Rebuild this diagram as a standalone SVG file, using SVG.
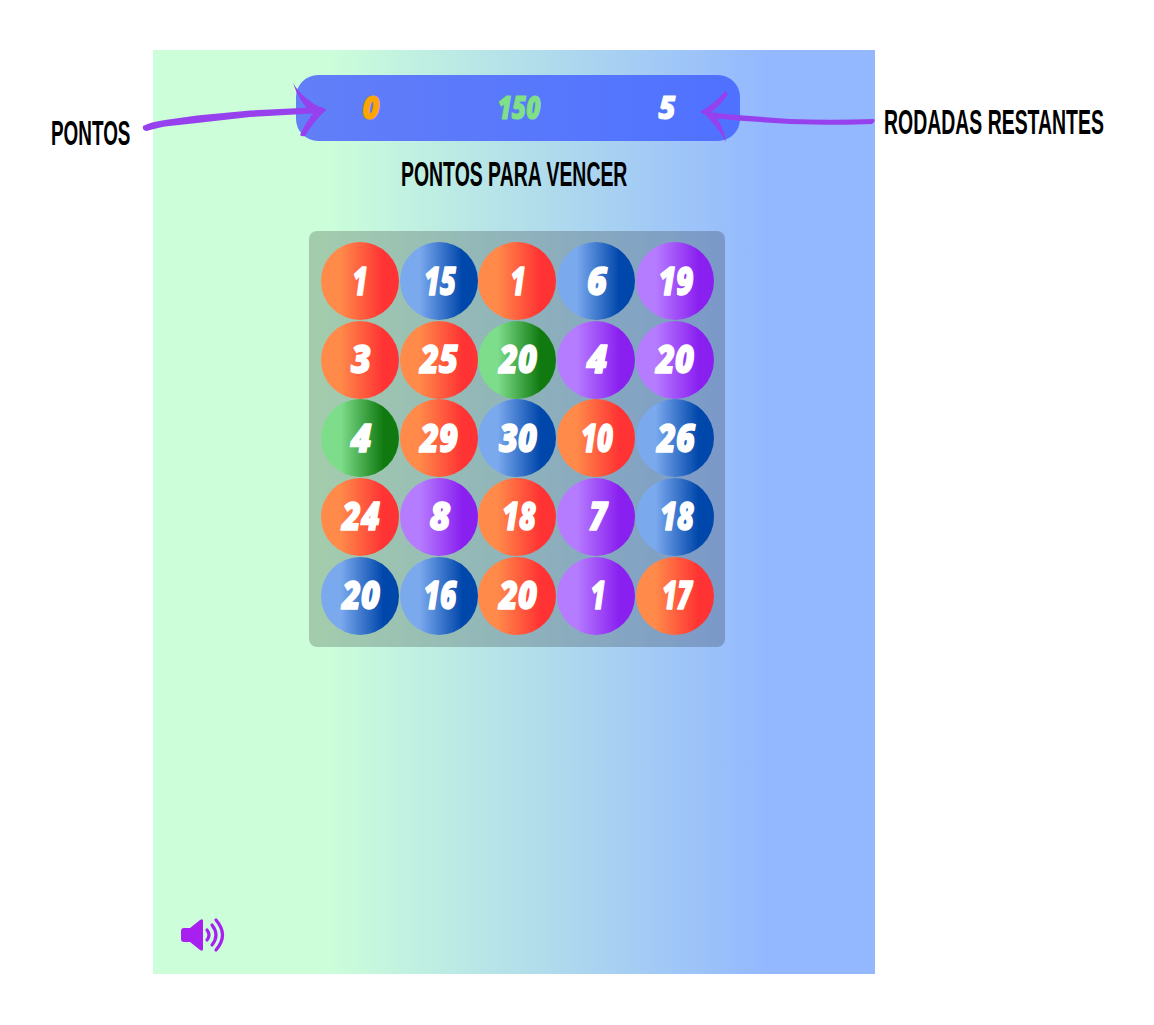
<svg xmlns="http://www.w3.org/2000/svg" width="1154" height="1025" viewBox="0 0 1154 1025">
<style>
.lab{font-family:"Liberation Sans",Arial,sans-serif;font-weight:700;font-size:36px;fill:#000}
.num{font-family:"Open Sans","Liberation Sans",sans-serif;font-weight:800;font-style:italic;font-size:38px;fill:#fff;stroke:#fff;stroke-width:1.4;stroke-linejoin:round;text-anchor:middle}
.stat{font-family:"Open Sans","Liberation Sans",sans-serif;font-weight:800;font-style:italic;font-size:32px;stroke-width:1;stroke-linejoin:round;text-anchor:middle}
.r{fill:url(#gr)}.b{fill:url(#gb)}.p{fill:url(#gp)}.g{fill:url(#gg)}
.arr{fill:#9640EE}
.snd{fill:none;stroke:#A820F0;stroke-width:3.2;stroke-linecap:round}
</style>
<defs>
<linearGradient id="bg" x1="0" x2="1" y1="0" y2="0"><stop offset=".235" stop-color="#CCFFD9"/><stop offset=".85" stop-color="#94B8FF"/></linearGradient>
<linearGradient id="bar" x1="0" x2="1" y1="0" y2="0"><stop offset="0" stop-color="#627FF8"/><stop offset="1" stop-color="#4F71FF"/></linearGradient>
<linearGradient id="gr" x1="0" x2="1" y1="0" y2="0"><stop offset=".25" stop-color="#FF8A4A"/><stop offset=".8" stop-color="#FF3333"/></linearGradient>
<linearGradient id="gb" x1="0" x2="1" y1="0" y2="0"><stop offset=".25" stop-color="#7BA9EE"/><stop offset=".8" stop-color="#0047AB"/></linearGradient>
<linearGradient id="gp" x1="0" x2="1" y1="0" y2="0"><stop offset=".25" stop-color="#B67CFF"/><stop offset=".8" stop-color="#8A20F0"/></linearGradient>
<linearGradient id="gg" x1="0" x2="1" y1="0" y2="0"><stop offset=".25" stop-color="#7EDD8B"/><stop offset=".8" stop-color="#107A10"/></linearGradient>
</defs>
<rect id="background" x="153" y="50" width="722" height="924" fill="url(#bg)"/>
<g id="score-bar">
<rect x="296" y="75" width="444" height="66" rx="22" fill="url(#bar)"/>
<text class="stat" x="371" y="119" fill="#FFA500" stroke="#FFA500" textLength="17" lengthAdjust="spacingAndGlyphs">0</text>
<text class="stat" x="519" y="119" fill="#80E085" stroke="#80E085" textLength="43" lengthAdjust="spacingAndGlyphs">150</text>
<text class="stat" x="667" y="119" fill="#fff" stroke="#fff" textLength="17" lengthAdjust="spacingAndGlyphs">5</text>
</g>
<g id="label-pontos"><text class="lab" transform="translate(51 145) scale(.525 1)">PONTOS</text></g>
<g id="label-vencer"><text class="lab" transform="translate(401 186) scale(.54 1)">PONTOS PARA VENCER</text></g>
<g id="label-rodadas"><text class="lab" transform="translate(884 134) scale(.54 1)">RODADAS RESTANTES</text></g>
<g id="board"><rect x="309" y="231" width="416" height="416" rx="8" fill="#000" fill-opacity=".2"/></g>
<g id="c11"><circle class="r" cx="360" cy="281" r="39"/><text class="num" x="360" y="295" textLength="15" lengthAdjust="spacingAndGlyphs">1</text></g>
<g id="c12"><circle class="b" cx="439" cy="281" r="39"/><text class="num" x="440" y="295" textLength="32" lengthAdjust="spacingAndGlyphs">15</text></g>
<g id="c13"><circle class="r" cx="517" cy="281" r="39"/><text class="num" x="518" y="295" textLength="15" lengthAdjust="spacingAndGlyphs">1</text></g>
<g id="c14"><circle class="b" cx="596" cy="281" r="39"/><text class="num" x="597" y="295" textLength="20" lengthAdjust="spacingAndGlyphs">6</text></g>
<g id="c15"><circle class="p" cx="675" cy="281" r="39"/><text class="num" x="676" y="295" textLength="35" lengthAdjust="spacingAndGlyphs">19</text></g>
<g id="c21"><circle class="r" cx="360" cy="360" r="39"/><text class="num" x="361" y="373" textLength="20" lengthAdjust="spacingAndGlyphs">3</text></g>
<g id="c22"><circle class="r" cx="439" cy="360" r="39"/><text class="num" x="439" y="373" textLength="38" lengthAdjust="spacingAndGlyphs">25</text></g>
<g id="c23"><circle class="g" cx="517" cy="360" r="39"/><text class="num" x="518" y="373" textLength="38" lengthAdjust="spacingAndGlyphs">20</text></g>
<g id="c24"><circle class="p" cx="596" cy="360" r="39"/><text class="num" x="597" y="373" textLength="21" lengthAdjust="spacingAndGlyphs">4</text></g>
<g id="c25"><circle class="p" cx="675" cy="360" r="39"/><text class="num" x="675" y="373" textLength="38" lengthAdjust="spacingAndGlyphs">20</text></g>
<g id="c31"><circle class="g" cx="360" cy="438" r="39"/><text class="num" x="361" y="452" textLength="21" lengthAdjust="spacingAndGlyphs">4</text></g>
<g id="c32"><circle class="r" cx="439" cy="438" r="39"/><text class="num" x="439" y="452" textLength="38" lengthAdjust="spacingAndGlyphs">29</text></g>
<g id="c33"><circle class="b" cx="517" cy="438" r="39"/><text class="num" x="518" y="452" textLength="38" lengthAdjust="spacingAndGlyphs">30</text></g>
<g id="c34"><circle class="r" cx="596" cy="438" r="39"/><text class="num" x="597" y="452" textLength="32" lengthAdjust="spacingAndGlyphs">10</text></g>
<g id="c35"><circle class="b" cx="675" cy="438" r="39"/><text class="num" x="676" y="452" textLength="38" lengthAdjust="spacingAndGlyphs">26</text></g>
<g id="c41"><circle class="r" cx="360" cy="517" r="39"/><text class="num" x="361" y="530" textLength="38" lengthAdjust="spacingAndGlyphs">24</text></g>
<g id="c42"><circle class="p" cx="439" cy="517" r="39"/><text class="num" x="440" y="530" textLength="21" lengthAdjust="spacingAndGlyphs">8</text></g>
<g id="c43"><circle class="r" cx="517" cy="517" r="39"/><text class="num" x="519" y="530" textLength="34" lengthAdjust="spacingAndGlyphs">18</text></g>
<g id="c44"><circle class="p" cx="596" cy="517" r="39"/><text class="num" x="598" y="530" textLength="18" lengthAdjust="spacingAndGlyphs">7</text></g>
<g id="c45"><circle class="b" cx="675" cy="517" r="39"/><text class="num" x="677" y="530" textLength="34" lengthAdjust="spacingAndGlyphs">18</text></g>
<g id="c51"><circle class="b" cx="360" cy="596" r="39"/><text class="num" x="361" y="609" textLength="38" lengthAdjust="spacingAndGlyphs">20</text></g>
<g id="c52"><circle class="b" cx="439" cy="596" r="39"/><text class="num" x="440" y="609" textLength="33" lengthAdjust="spacingAndGlyphs">16</text></g>
<g id="c53"><circle class="r" cx="517" cy="596" r="39"/><text class="num" x="518" y="609" textLength="38" lengthAdjust="spacingAndGlyphs">20</text></g>
<g id="c54"><circle class="p" cx="596" cy="596" r="39"/><text class="num" x="598" y="609" textLength="15" lengthAdjust="spacingAndGlyphs">1</text></g>
<g id="c55"><circle class="r" cx="675" cy="596" r="39"/><text class="num" x="677" y="609" textLength="30" lengthAdjust="spacingAndGlyphs">17</text></g>
<g id="connectors">
<g id="arrow-pontos">
<path class="arr" d="M143 126Q150 122 165 120L197 115.500L250 110.500L322 107L326 110L322 113L250 117L197 123L165 126.500Q152 129 147 131Q142 131 143 126Z"/>
<path class="arr" d="M293 83Q303 100 326 110L312 113Q299 102 293 83Z"/>
<path class="arr" d="M326 110L315 111Q306 122 300 135Q302 137 305 136Q313 122 326 110Z"/>
</g>
<g id="arrow-rodadas">
<path class="arr" d="M874 119Q830 120.500 790 119L737 115L702 111.500L700 112L712 118L737 120.500L790 124Q840 125.500 872 124Q876 121 874 119Z"/>
<path class="arr" d="M725 91Q716 103 700 112L708 115Q720 106 728 94Z"/>
<path class="arr" d="M702 112Q716 124 726 142Q723 124 713 114Z"/>
</g>
</g>
<g id="sound">
<path d="M184 928H190L200 920Q203 918 203 921V949Q203 952 200 950L190 942H184Q181 942 181 939V931Q181 928 184 928Z" fill="#A820F0"/>
<path class="snd" d="M207 930Q211 935 207 940M212 925Q220 935 212 945M216 920Q229 935 216 950"/>
</g>
</svg>
